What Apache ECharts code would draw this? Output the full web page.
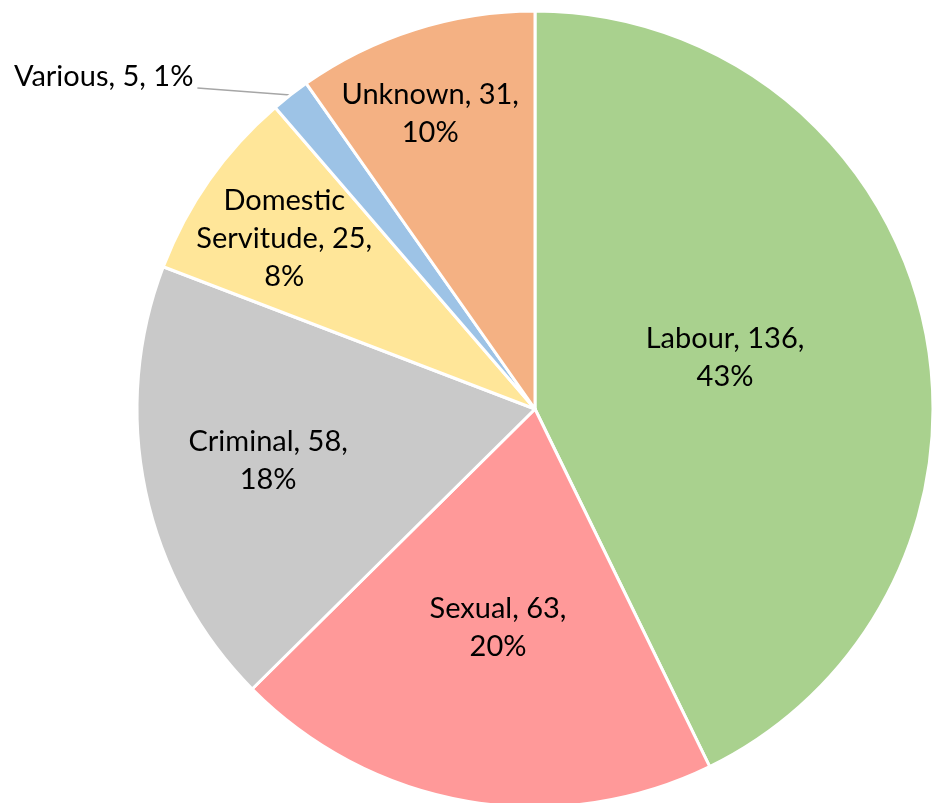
<!DOCTYPE html>
<html>
<head>
<meta charset="utf-8">
<script src="https://cdn.jsdelivr.net/npm/echarts@6/dist/echarts.min.js"></script>
<style>
html,body{margin:0;padding:0;background:#fff;}
#chart{width:937px;height:803px;}
</style>
</head>
<body>
<div id="chart"></div>
<script>
const categories = ["Labour", "Sexual", "Criminal", "Domestic Servitude", "Various", "Unknown"];
const values = [136, 63, 58, 25, 5, 31];
const colors = ["#A9D18E", "#FF9999", "#C9C9C9", "#FFE699", "#9DC3E6", "#F4B183"];

// label layout settings (radial fraction of the radius for each inside label, plus small nudges)
const labelFrac = [0.49, 0.556, 0.68, 0.77, 1, 0.79];
const labelDx = [0, 0, -2, 0, 0, -10];
const labelDy = [-7, 0, -4, 6, 0, 4];
const outsideIndex = 4;
const CX = 535, CY = 409, R = 398;

const total = values.reduce((a, b) => a + b, 0);
const midAngles = [];
let acc = 0;
values.forEach(v => { midAngles.push((acc + v / 2) / total * 2 * Math.PI); acc += v; });

const chart = echarts.init(document.getElementById('chart'));
const font = 'Lato';
chart.setOption({
  animation: false,
  backgroundColor: '#fff',
  series: [{
    type: 'pie',
    center: [CX, CY],
    radius: [0, R],
    startAngle: 90,
    clockwise: true,
    percentPrecision: 0,
    avoidLabelOverlap: false,
    itemStyle: { borderColor: '#fff', borderWidth: 3 },
    label: {
      show: true,
      position: 'inside',
      color: '#000',
      fontFamily: font,
      fontSize: 29,
      lineHeight: 38,
      formatter: function (p) {
        const name = p.name === 'Domestic Servitude' ? 'Domestic\nServitude' : p.name;
        if (p.dataIndex === outsideIndex) return p.name + ', ' + p.value + ', ' + p.percent + '%';
        return name + ', ' + p.value + ',\n' + p.percent + '%';
      }
    },
    labelLine: { show: false },
    labelLayout: function (p) {
      const i = p.dataIndex;
      const s = Math.sin(midAngles[i]), c = Math.cos(midAngles[i]);
      if (i === outsideIndex) {
        const ex = CX + R * s, ey = CY - R * c;
        return {
          x: ex - 97, y: ey - 18, align: 'right', verticalAlign: 'middle',
          labelLinePoints: [[ex, ey], [ex - 93, ey - 7], [ex - 93, ey - 7]]
        };
      }
      const f = labelFrac[i];
      return { x: CX + R * f * s + labelDx[i], y: CY - R * f * c + labelDy[i], align: 'center', verticalAlign: 'middle' };
    },
    data: categories.map((n, i) => {
      const d = { name: n, value: values[i], itemStyle: { color: colors[i] } };
      if (i === outsideIndex) {
        d.label = { position: 'outside' };
        d.labelLine = { show: true, length: 10, length2: 80, smooth: false, lineStyle: { color: '#A6A6A6', width: 1.5 } };
      }
      return d;
    })
  }]
});
</script>
</body>
</html>
